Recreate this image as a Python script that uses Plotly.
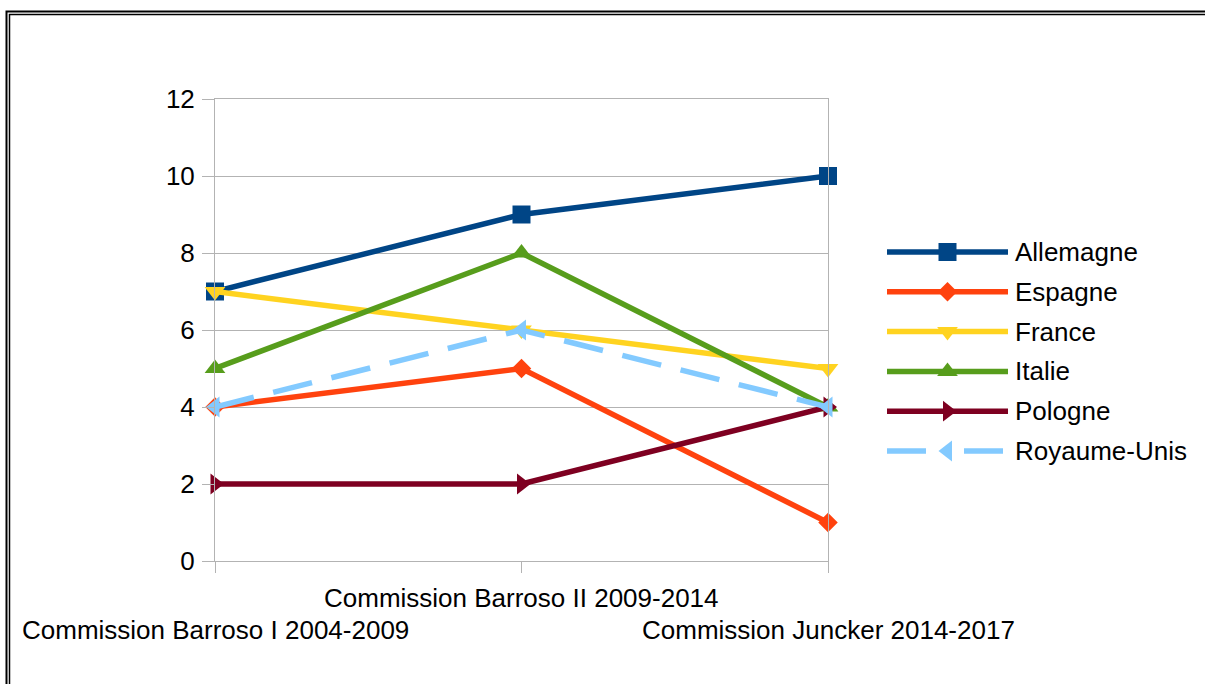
import plotly.graph_objects as go

W, H = 1205, 684

categories = ["Commission Barroso I 2004-2009",
              "Commission Barroso II 2009-2014",
              "Commission Juncker 2014-2017"]
series_names = ["Allemagne", "Espagne", "France", "Italie", "Pologne", "Royaume-Unis"]
allemagne = [7, 9, 10]
espagne = [4, 5, 1]
france = [7, 6, 5]
italie = [5, 8, 4]
pologne = [2, 2, 4]
royaume_unis = [4, 6, 4]
series_values = [allemagne, espagne, france, italie, pologne, royaume_unis]
y_ticks = [0, 2, 4, 6, 8, 10, 12]

colors = ["#004586", "#ff420e", "#ffd320", "#579d1c", "#7e0021", "#83caff"]
symbols = ["square", "diamond", "triangle-down", "triangle-up", "triangle-right", "triangle-left"]
msizes = [18, 15, 18, 18, 18, 18]
dashes = ["solid"] * 5 + ["40px,20px"]
FONT = "Liberation Sans, Arial, sans-serif"

def px_x(p):
    return p / W

def px_y(p):
    return 1 - p / H

fig = go.Figure()
xs = list(range(len(categories)))
for name, vals, c, s, ms, d in zip(series_names, series_values, colors, symbols, msizes, dashes):
    fig.add_trace(go.Scatter(
        x=xs, y=vals, name=name, mode="lines+markers",
        line=dict(color=c, width=5.5, dash=d),
        marker=dict(symbol=s, size=ms, color=c, line=dict(width=0)),
        showlegend=False, cliponaxis=False, xaxis="x", yaxis="y"))

# custom legend drawn on an auxiliary axis
legend_dashes = ["solid"] * 5 + ["39px,38px"]
for i, (name, c, s, ms, d) in enumerate(zip(series_names, colors, symbols, msizes, legend_dashes)):
    fig.add_trace(go.Scatter(
        x=[0, 1], y=[i, i], mode="lines", line=dict(color=c, width=5.5, dash=d),
        showlegend=False, hoverinfo="skip", xaxis="x2", yaxis="y2", cliponaxis=False))
    fig.add_trace(go.Scatter(
        x=[0.5], y=[i], mode="markers",
        marker=dict(symbol=s, size=ms, color=c, line=dict(width=0)),
        showlegend=False, hoverinfo="skip", xaxis="x2", yaxis="y2", cliponaxis=False))
    fig.add_annotation(text=name, xref="paper", yref="y2", x=px_x(1013), y=i,
                       xanchor="left", yanchor="middle", showarrow=False,
                       font=dict(family=FONT, size=26, color="#000000"))

# staggered category labels
label_y = [630, 598, 630]
for i, (cat, ly) in enumerate(zip(categories, label_y)):
    fig.add_annotation(text=cat, xref="x", yref="paper", x=i, y=px_y(ly),
                       xanchor="center", yanchor="middle", showarrow=False,
                       font=dict(family=FONT, size=26, color="#000000"))

grid = "#b3b3b3"
fig.update_layout(
    width=W, height=H,
    margin=dict(l=0, r=0, t=0, b=0),
    paper_bgcolor="white", plot_bgcolor="white",
    showlegend=False,
    font=dict(family=FONT, size=26, color="#000000"),
    xaxis=dict(domain=[px_x(215), px_x(828)], range=[0, 2], tickvals=xs,
               showticklabels=False, ticks="outside", ticklen=11, tickcolor=grid,
               tickwidth=1, showgrid=False, zeroline=False, showline=True,
               linecolor=grid, linewidth=1, mirror=True, automargin=False,
               fixedrange=True),
    yaxis=dict(domain=[px_y(561), px_y(99)], range=[0, 12], tickvals=y_ticks,
               ticks="outside", ticklen=12, tickcolor=grid, tickwidth=1,
               showgrid=True, gridcolor=grid, gridwidth=1, zeroline=False,
               showline=True, linecolor=grid, linewidth=1, mirror=True,
               tickfont=dict(family=FONT, size=26, color="#000000"),
               ticklabelstandoff=2, automargin=False, fixedrange=True),
    xaxis2=dict(domain=[px_x(887), px_x(1008)], range=[0, 1], visible=False,
                anchor="y2", fixedrange=True),
    yaxis2=dict(domain=[px_y(470.9), px_y(232.1)], range=[5.5, -0.5], visible=False,
                anchor="x2", fixedrange=True),
)

# double frame around the chart
fig.add_shape(type="rect", xref="paper", yref="paper",
              x0=px_x(6.5), x1=px_x(1215), y0=px_y(11.5), y1=px_y(700),
              line=dict(color="#000000", width=2), fillcolor="rgba(0,0,0,0)", layer="above")
fig.add_shape(type="rect", xref="paper", yref="paper",
              x0=px_x(9.5), x1=px_x(1212), y0=px_y(14.5), y1=px_y(697),
              line=dict(color="#000000", width=1.5), fillcolor="rgba(0,0,0,0)", layer="above")

fig.write_html("out.html")
